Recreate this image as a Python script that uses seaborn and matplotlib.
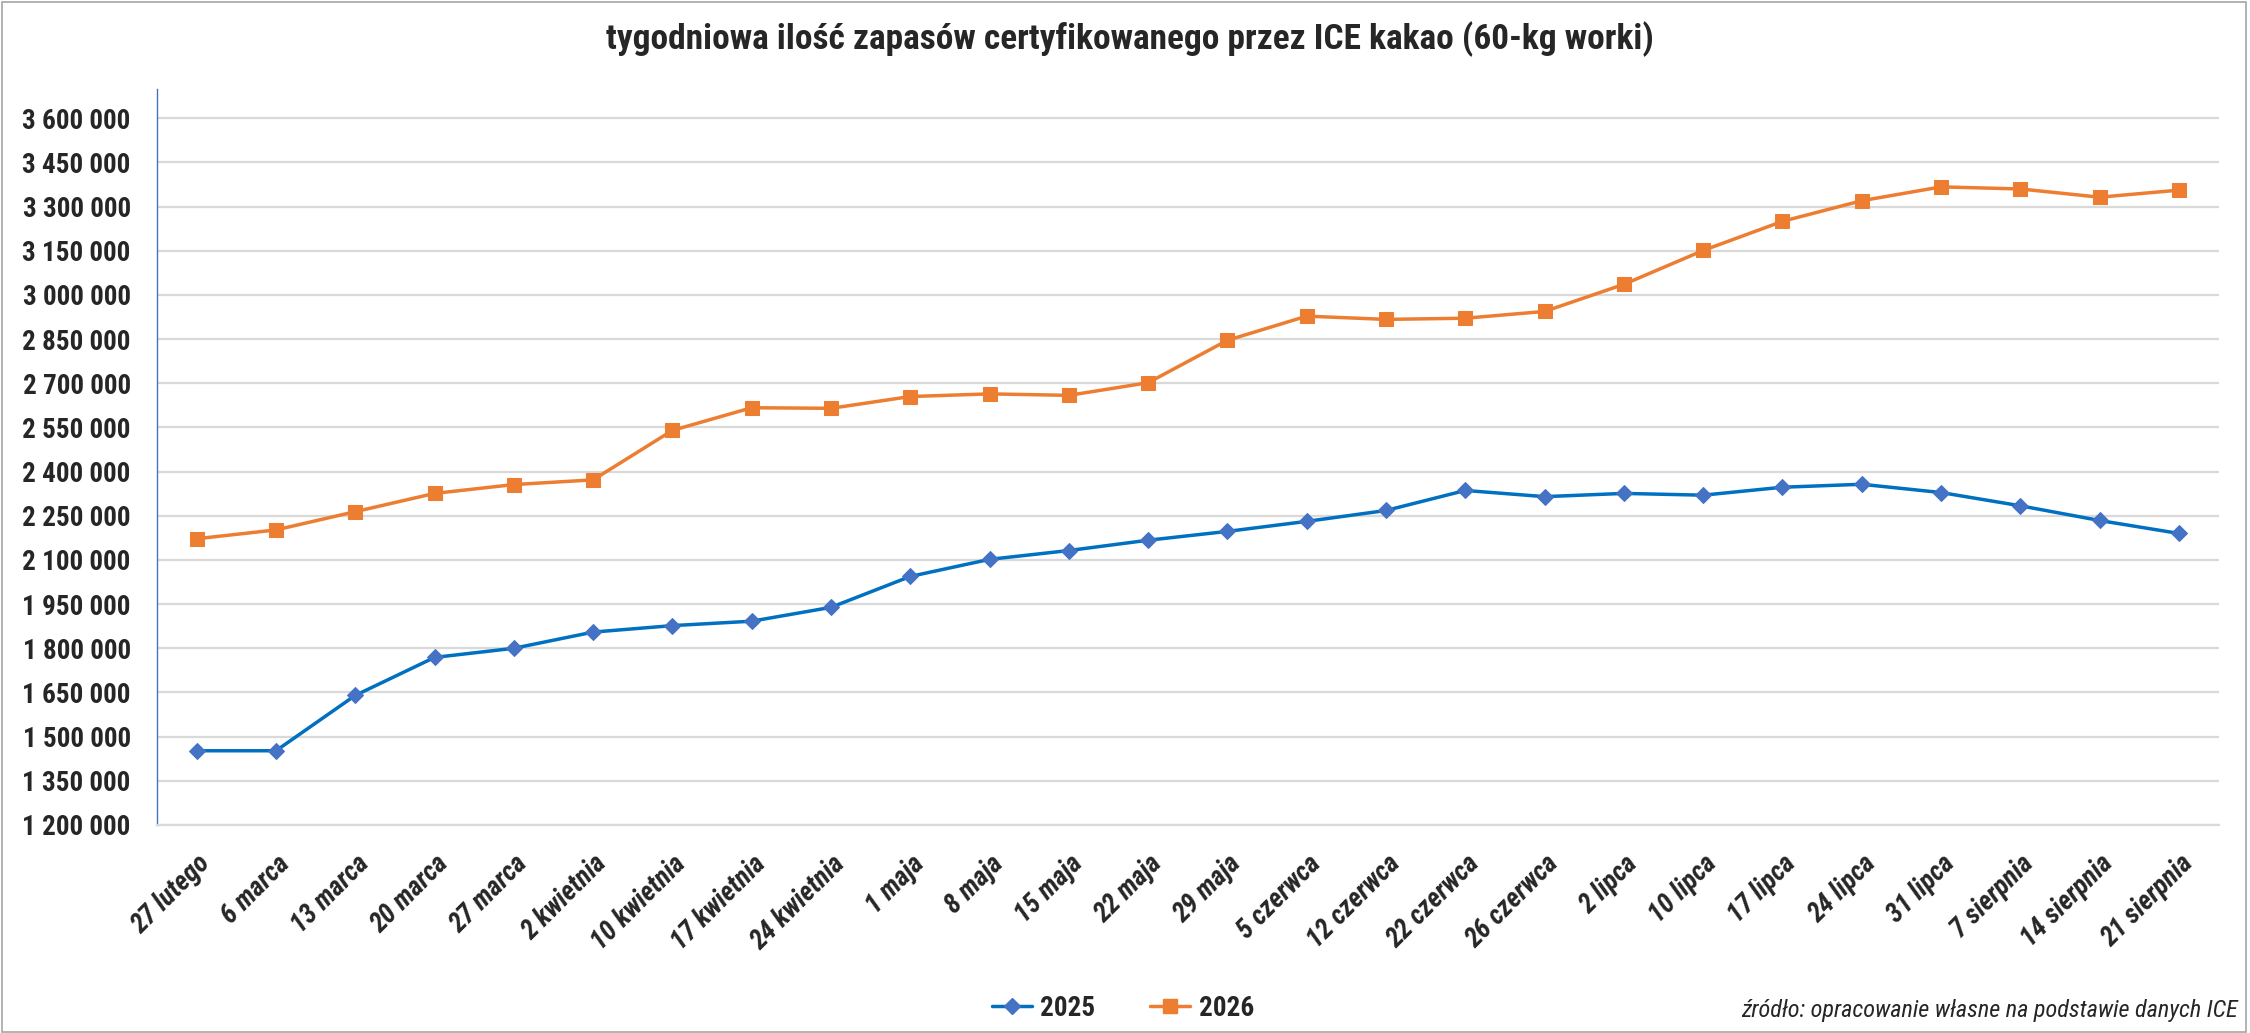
import seaborn as sns
import matplotlib.pyplot as plt
import matplotlib.ticker as mticker
from matplotlib.patches import Rectangle
from matplotlib.lines import Line2D
import pandas as pd
import numpy as np

# Data
dates = ["27 lutego", "6 marca", "13 marca", "20 marca", "27 marca", "2 kwietnia",
         "10 kwietnia", "17 kwietnia", "24 kwietnia", "1 maja", "8 maja", "15 maja",
         "22 maja", "29 maja", "5 czerwca", "12 czerwca", "22 czerwca", "26 czerwca",
         "2 lipca", "10 lipca", "17 lipca", "24 lipca", "31 lipca", "7 sierpnia",
         "14 sierpnia", "21 sierpnia"]
stock_2025 = [1452000, 1452000, 1640000, 1769000, 1800000, 1855000, 1877000, 1892000,
              1939000, 2044000, 2102000, 2132000, 2167000, 2197000, 2231000, 2268000,
              2336000, 2315000, 2326000, 2320000, 2347000, 2357000, 2329000, 2284000,
              2234000, 2190000]
stock_2026 = [2172000, 2202000, 2264000, 2326000, 2356000, 2372000, 2540000, 2617000,
              2615000, 2655000, 2664000, 2659000, 2702000, 2846000, 2928000, 2917000,
              2921000, 2944000, 3036000, 3151000, 3250000, 3320000, 3367000, 3360000,
              3332000, 3356000]
years = ["2025", "2026"]

df = pd.DataFrame({
    "pos": list(range(len(dates))) * 2,
    "stock": stock_2025 + stock_2026,
    "year": [years[0]] * len(dates) + [years[1]] * len(dates),
})

sns.set_style("white")
plt.rcParams["font.family"] = ["Roboto Condensed", "DejaVu Sans"]

line_colors = {"2025": "#0070C0", "2026": "#ED7D31"}
marker_colors = {"2025": "#4472C4", "2026": "#ED7D31"}
markers = {"2025": "D", "2026": "s"}
msizes = {"2025": 8, "2026": 9.5}

fig = plt.figure(figsize=(22.5, 10.33), dpi=100)
ax = fig.add_axes([0.0698, 0.2014, 0.9162, 0.7126])

for yr in years:
    sub = df[df["year"] == yr]
    sns.lineplot(data=sub, x="pos", y="stock", ax=ax, color=line_colors[yr],
                 linewidth=2.5, marker=markers[yr], markersize=msizes[yr],
                 markerfacecolor=marker_colors[yr], markeredgecolor=marker_colors[yr],
                 sort=False, legend=False)

ax.set_xlim(-0.5, len(dates) - 0.5)
ax.set_ylim(1200000, 3700000)
ax.set_xlabel("")
ax.set_ylabel("")

ax.yaxis.set_major_locator(mticker.MultipleLocator(150000))
ax.yaxis.set_minor_locator(mticker.MultipleLocator(30000))
ax.yaxis.set_major_formatter(mticker.FuncFormatter(lambda v, p: f"{int(round(v)):,}".replace(",", " ")))
ax.yaxis.grid(True, which="major", color="#D9D9D9", linewidth=1.6)
ax.xaxis.grid(False)

ax.set_xticks(range(len(dates)))
ax.set_xticklabels(dates, rotation=45, ha="right", va="top", rotation_mode="anchor",
                   fontsize=19.5, fontweight="bold", fontstyle="italic")
ax.tick_params(axis="x", length=0, pad=18)
ax.tick_params(axis="y", which="major", direction="inout", length=12, width=1,
               color="#4472C4", labelsize=19.5, pad=13)
ax.tick_params(axis="y", which="minor", direction="in", length=5.5, width=1,
               color="#4472C4")
for lab in ax.get_yticklabels():
    lab.set_fontweight("bold")

for side in ["top", "right"]:
    ax.spines[side].set_visible(False)
ax.spines["left"].set_color("#4472C4")
ax.spines["left"].set_linewidth(1)
ax.spines["bottom"].set_color("#D9D9D9")
ax.spines["bottom"].set_linewidth(1.6)

fig.text(0.502, 0.962, "tygodniowa ilość zapasów certyfikowanego przez ICE kakao (60-kg worki)",
         ha="center", va="center", fontsize=25.5, fontweight="bold")

handles = [Line2D([0], [0], color=line_colors[y], lw=2.5, marker=markers[y],
                  markersize=msizes[y], markerfacecolor=marker_colors[y],
                  markeredgecolor=marker_colors[y]) for y in years]
fig.legend(handles, years, loc="center", bbox_to_anchor=(0.499, 0.024), ncol=2,
           frameon=False, handlelength=1.5, handletextpad=0.3, columnspacing=2.0,
           prop={"size": 19.5, "weight": "bold"})

fig.text(0.9946, 0.022, "źródło: opracowanie własne na podstawie danych ICE",
         ha="right", va="center", fontsize=17.5, fontstyle="italic")

fig.patches.append(Rectangle((0.001, 0.001), 0.997, 0.997, transform=fig.transFigure,
                             fill=False, edgecolor="#A6A6A6", linewidth=1.2))

plt.savefig("out.png", dpi=100)
plt.close()
